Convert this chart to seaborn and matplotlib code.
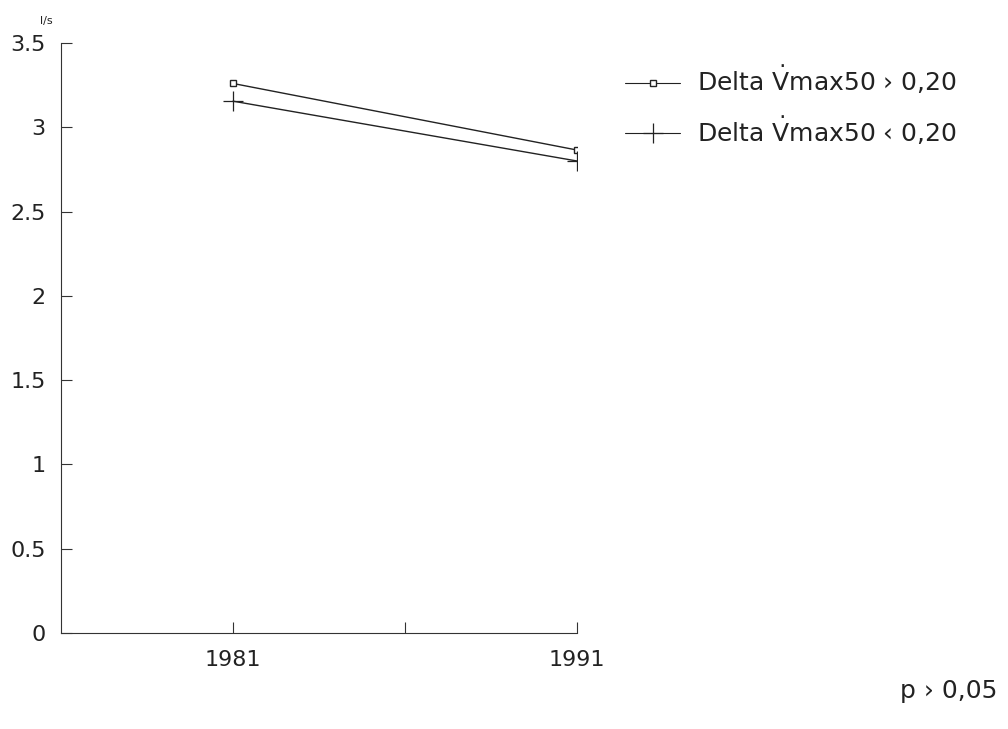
import matplotlib
matplotlib.use("Agg")
import matplotlib.pyplot as plt
import seaborn as sns
import pandas as pd
from matplotlib.lines import Line2D

years = ["1981", "1991"]
x_pos = [1, 3]
series_hi = [3.26, 2.865]
series_lo = [3.155, 2.80]
label_hi = r"Delta $\dot{\mathrm{V}}$max50 › 0,20"
label_lo = r"Delta $\dot{\mathrm{V}}$max50 ‹ 0,20"
y_ticks = [0, 0.5, 1, 1.5, 2, 2.5, 3, 3.5]
y_labels = ["0", "0.5", "1", "1.5", "2", "2.5", "3", "3.5"]

sns.set_theme(style="ticks")
plt.rcParams['font.family'] = ['DejaVu Sans']
plt.rcParams['mathtext.fontset'] = 'dejavusans'

df_hi = pd.DataFrame({"x": x_pos, "y": series_hi})
df_lo = pd.DataFrame({"x": x_pos, "y": series_lo})

INK = "#222222"
fig = plt.figure(figsize=(10.08, 7.29), dpi=100)
ax = fig.add_axes([0.0605, 0.1317, 0.512, 0.8093])

sns.lineplot(data=df_hi, x="x", y="y", color=INK, linewidth=1.0,
             marker="s", markersize=4, markerfacecolor="white",
             markeredgecolor=INK, markeredgewidth=1.0, ax=ax)
sns.lineplot(data=df_lo, x="x", y="y", color=INK, linewidth=1.0,
             marker="+", markersize=15, markeredgewidth=0.9,
             markeredgecolor=INK, ax=ax)

ax.set_xlim(0, 3)
ax.set_ylim(0, 3.5)
ax.set_xticks([1, 2, 3])
ax.set_xticklabels(["1981", "", "1991"])
ax.set_yticks(y_ticks)
ax.set_yticklabels(y_labels)
ax.tick_params(direction="in", length=8, width=0.8, colors="#333333",
               labelsize=16, labelcolor=INK)
ax.tick_params(axis="x", pad=12)
ax.tick_params(axis="y", pad=11)
ax.set_xlabel("")
ax.set_ylabel("")
for s in ["top", "right"]:
    ax.spines[s].set_visible(False)
for s in ["left", "bottom"]:
    ax.spines[s].set_linewidth(0.8)
    ax.spines[s].set_color("#333333")

fig.text(0.040, 0.967, "l/s", fontsize=8, color=INK)

handles = [
    Line2D([], [], color=INK, lw=0.8, marker="s", markersize=4,
           markerfacecolor="white", markeredgecolor=INK),
    Line2D([], [], color=INK, lw=0.8, marker="+", markersize=15,
           markeredgewidth=0.9, markeredgecolor=INK),
]
fig.legend(handles, [label_hi, label_lo], loc="upper left",
           bbox_to_anchor=(0.603, 0.937), frameon=False, fontsize=18,
           handlelength=2.2, labelspacing=0.7, handletextpad=0.65,
           borderpad=0.2, labelcolor=INK)

fig.text(0.893, 0.042, "p › 0,05", fontsize=18, color=INK)

fig.savefig("out.png", dpi=100)
